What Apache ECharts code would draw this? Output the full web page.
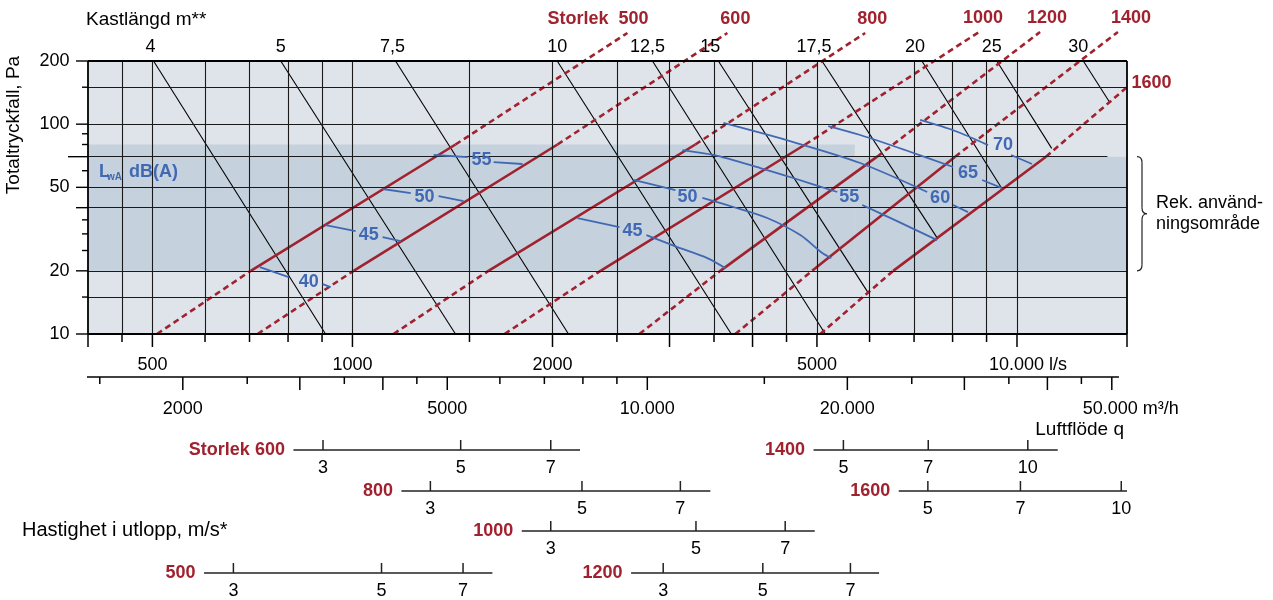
<!DOCTYPE html>
<html><head><meta charset="utf-8">
<script src="https://cdn.jsdelivr.net/npm/echarts/dist/echarts.min.js"></script>
<style>html,body{margin:0;padding:0;background:#fff}#c{width:1273px;height:600px}</style>
</head><body><div id="c"></div>
<script>
// ================= DATA =================
const X_MIN = 400, X_MAX = 14640;          // airflow l/s (log)
const Y_MIN = 10, Y_MAX = 200;             // total pressure drop Pa (log)
const M3H_PER_LS = 3.6;

// main x axis (l/s)
const lsLabelValues = [500, 1000, 2000, 5000, 10000];
const lsLabelTexts  = ['500', '1000', '2000', '5000', '10.000 l/s'];
const lsTicksLong   = [X_MIN, 500, 1000, 2000, 3000, 4000, 5000, 10000, X_MAX];
const lsTicksShort  = [450, 600, 700, 800, 900, 1500, 2500, 3500, 4500, 6000, 7000, 8000, 9000];
const vGridValues   = [450, 500, 600, 700, 800, 900, 1000, 1500, 2000, 2500, 3000, 3500, 4000, 4500, 5000, 6000, 7000, 8000, 9000, 10000];

// y axis (Pa)
const yLabelValues   = [200, 100, 50, 20, 10];
const yTicksLong     = [200, 100, 50, 40, 20, 10];
const yTicksShort    = [150, 90, 80, 60, 35, 30, 25, 15];
const yTickExtra     = [70];
const hGridValues    = [150, 100, 50, 40, 20, 15];
const hLine70        = [70, 13680];          // pressure, end airflow

// m3/h axis
const m3LabelValues = [2000, 5000, 10000, 20000, 50000];
const m3LabelTexts  = ['2000', '5000', '10.000', '20.000', '50.000 m³/h'];
const m3TicksLong   = [2000, 3000, 4000, 5000, 10000, 20000, 30000, 40000, 50000];
const m3TicksShort  = [1500, 2500, 3500, 4500, 6000, 7000, 8000, 9000, 15000, 25000, 35000, 45000];
const m3LineRange   = [1430, 51250];

// recommended area (airflow range, pressure range)
const bandLeftQ  = [X_MIN, 5700], bandLeftP  = [20, 80];
const bandRightQ = [5700, X_MAX], bandRightP = [20, 70];

// size lines (Storlek): points bottom / solid start / solid end / top
const sizeNames = ['500', '600', '800', '1000', '1200', '1400', '1600'];
const sizeLineQ = [
  [508, 703, 1429, 2593], [720, 1004, 2035, 3666], [1153, 1602, 3281, 5910],
  [1694, 2362, 4801, 8770], [2703, 3577, 6160, 10832], [3768, 4918, 8071, 14187],
  [5058, 6512, 11057, 14636]];
const sizeLineP = [
  [10, 20, 80, 272], [10, 20, 80, 272], [10, 20, 80, 272],
  [10, 20, 80, 275], [10, 20, 70, 275], [10, 20, 70, 275], [10, 20, 70, 150]];

// throw length lines (Kastlängd)
const throwNames = ['4', '5', '7,5', '10', '12,5', '15', '17,5', '20', '25', '30'];
const throwQ = [[502, 911], [780, 1429], [1161, 2114], [2033, 3716], [2828, 5147],
                [3553, 5973], [5088, 7584], [7193, 9484], [9324, 11278], [12584, 13800]];
const throwP = [[200, 10], [200, 10], [200, 10], [200, 10], [200, 10],
                [200, 15.7], [200, 28.7], [200, 49.5], [200, 76.7], [200, 126.6]];

// sound level curves LwA dB(A)
const soundNames = ['40', '45', '50', '55', '45', '50', '55', '60', '65', '70'];
const soundPartA = [
  [[725.5, 20.85], [802, 18.68]],
  [[911, 33.05], [1011, 30.95]],
  [[1110, 49.1], [1224, 46.97]],
  [[1325, 71.3], [1491, 69.7]],
  [[2181, 35.7], [2522, 32.3]],
  [[2648, 54.2], [3062, 48.5]],
  [[3137, 75.3], [3492, 71.3], [4109, 61.8], [4606, 55.4], [5364, 47.5]],
  [[3615, 101.3], [4606, 82.2], [5809, 65.3], [7326, 47.5]],
  [[5200, 98.0], [5809, 88.8], [6786, 75.3], [8015, 62.5]],
  [[7150, 104.7], [8071, 92.8], [9046, 79.5]]];
const soundPartB = [
  [[902, 17.3], [927.5, 16.74]],
  [[1110, 28.99], [1182, 27.73]],
  [[1348, 45.45], [1470, 43.0]],
  [[1631, 66.0], [1803, 64.6]],
  [[2769, 29.6], [3083, 25.96], [3420, 23.0], [3640, 20.6]],
  [[3362, 44.5], [3742, 40.3], [4209, 35.7], [4720, 29.6], [5093, 24.3], [5254, 23.0]],
  [[5849, 41.2], [6601, 34.5], [7584, 28.0]],
  [[8015, 41.2], [8440, 38.1]],
  [[8862, 54.2], [9495, 49.6]],
  [[9797, 71.3], [10534, 64.6]]];
const soundLabelAt = [[859.5, 17.68], [1058, 29.6], [1284, 44.96], [1564, 67.5], [2638, 30.95],
                      [3192, 44.96], [5591, 44.96], [7662, 44.5], [8440, 58.5], [9528, 79.5]];

// outlet velocity scales (m/s) -> airflow l/s
const velSizeNames = ['Storlek 600', '800', '1000', '500', '1200', '1400', '1600'];
const velValues = [[3, 5, 7], [3, 5, 7], [3, 5, 7], [3, 5, 7], [3, 5, 7], [5, 7, 10], [5, 7, 10]];
const velTickQ  = [[903, 1455, 1988], [1310, 2215, 3115], [1988, 3288, 4479], [662, 1106, 1467],
                   [2935, 4145, 5615], [5480, 7353, 10382], [7343, 10120, 14352]];
const velLineQ  = [[815, 2200], [1185, 3456], [1798, 4962], [598, 1624], [2626, 6201], [4941, 11516], [6638, X_MAX]];

// ================= LAYOUT / STYLE =================
const FONT = '"Liberation Sans", Arial, Helvetica, sans-serif';
const RED = '#a0222f', BLUE = '#4169b3', INK = '#000';
const BG = '#dfe4eb', BAND = '#c5d1dc';
const velRowY = [116, 157, 197, 239, 239, 116, 157];   // px below plot bottom
const ROW_LS_LABEL = 31, ROW_M3_LINE = 43, ROW_M3_LABEL = 75;
const throwLabelDx = [-3, 0, -3, 0, -5, -8, -8, -7, -5, -5];
const sizeLabelDx  = [21, 8, 7, 4, 7, 13, 0];

const chart = echarts.init(document.getElementById('c'));
const series = [];
const M  = {xAxisIndex: 0, yAxisIndex: 0};
const H  = {xAxisIndex: 1, yAxisIndex: 1};
const H3 = {xAxisIndex: 2, yAxisIndex: 1};

function lineS(axes, data, color, width, dash, z, smooth) {
  series.push(Object.assign({type: 'line', data, symbol: 'none', showSymbol: false, clip: false,
    silent: true, z: z || 3, smooth: smooth || false, animation: false,
    lineStyle: {color, width, type: dash || 'solid', cap: 'butt', opacity: 1}}, axes));
}
function marks(axes, data, size, offset, color, z) {
  series.push(Object.assign({type: 'scatter', data, symbol: 'rect', symbolSize: size, symbolOffset: offset,
    itemStyle: {color, opacity: 1}, clip: false, silent: true, z: z || 4, animation: false}, axes));
}
function texts(axes, items, labelBase, z) {
  series.push(Object.assign({type: 'scatter', data: items, symbolSize: 1,
    itemStyle: {color: 'rgba(0,0,0,0)', opacity: 1}, clip: false, silent: true, z: z || 6, animation: false,
    label: Object.assign({show: true, position: 'inside', fontFamily: FONT, fontSize: 18, color: INK,
      textBorderWidth: 0, textBorderColor: 'transparent', opacity: 1}, labelBase)}, axes));
}

// recommended area band
series.push(Object.assign({type: 'line', data: [[X_MIN, Y_MIN]], symbol: 'none', z: 1, silent: true, animation: false,
  lineStyle: {width: 0},
  markArea: {silent: true, itemStyle: {color: BAND, opacity: 1}, data: [
    [{coord: [bandLeftQ[0], bandLeftP[0]]}, {coord: [bandLeftQ[1], bandLeftP[1]]}],
    [{coord: [bandRightQ[0], bandRightP[0]]}, {coord: [bandRightQ[1], bandRightP[1]]}]]}}, M));

// grid lines
series.push(Object.assign({type: 'line', data: [[X_MIN, Y_MIN]], symbol: 'none', z: 2, silent: true, animation: false,
  lineStyle: {width: 0},
  markLine: {silent: true, symbol: ['none', 'none'], label: {show: false}, animation: false,
    lineStyle: {color: '#1a1a1a', width: 1.1, type: 'solid', opacity: 1},
    data: vGridValues.map(v => ({xAxis: v})).concat(hGridValues.map(p => ({yAxis: p})))
      .concat([[{coord: [X_MIN, hLine70[0]]}, {coord: [hLine70[1], hLine70[0]]}]])}}, M));
// plot border
series.push(Object.assign({type: 'line', data: [[X_MIN, Y_MIN]], symbol: 'none', z: 7, silent: true, animation: false,
  lineStyle: {width: 0},
  markLine: {silent: true, symbol: ['none', 'none'], label: {show: false}, animation: false,
    lineStyle: {color: INK, width: 1.8, type: 'solid', opacity: 1},
    data: [{xAxis: X_MIN}, {xAxis: X_MAX}, {yAxis: Y_MIN}, {yAxis: Y_MAX}]}}, M));

// throw lines
throwQ.forEach((qs, i) => lineS(M, qs.map((q, j) => [q, throwP[i][j]]), INK, 1.1, 'solid', 3));
texts(M, throwQ.map((qs, i) => ({value: [qs[0], throwP[i][0]],
  label: {formatter: throwNames[i], position: 'top', distance: 4, offset: [throwLabelDx[i], 0]}})), {fontSize: 18});

// size lines
sizeLineQ.forEach((qs, i) => {
  const pts = qs.map((q, j) => [q, sizeLineP[i][j]]);
  lineS(M, [pts[0], pts[1]], RED, 2.6, [6, 4], 4);
  lineS(M, [pts[1], pts[2]], RED, 2.6, 'solid', 4);
  lineS(M, [pts[2], pts[3]], RED, 2.6, [6, 4], 4);
});
texts(M, sizeLineQ.map((qs, i) => {
  const last = i === sizeNames.length - 1;
  return {value: [qs[3], sizeLineP[i][3]], label: last ?
    {formatter: sizeNames[i], position: 'right', distance: 4, offset: [0, -4]} :
    (i === 0 ? {formatter: 'Storlek  ' + sizeNames[i], position: 'top', distance: 4, align: 'right', offset: [sizeLabelDx[i], 0]} :
      {formatter: sizeNames[i], position: 'top', distance: 4, offset: [sizeLabelDx[i], 0]})};
}), {color: RED, fontWeight: 'bold', fontSize: 18});

// sound curves
soundPartA.forEach((a, i) => {
  lineS(M, a, BLUE, 1.8, 'solid', 5, 0.3);
  lineS(M, soundPartB[i], BLUE, 1.8, 'solid', 5, 0.3);
});
texts(M, soundLabelAt.map((pt, i) => ({value: pt, label: {formatter: soundNames[i]}})),
  {color: BLUE, fontWeight: 'bold', fontSize: 18});

// y axis ticks and labels
marks(M, yTicksLong.map(p => [X_MIN, p]), [12, 1.4], [-6, 0], INK);
marks(M, yTicksShort.map(p => [X_MIN, p]), [6, 1.4], [-3, 0], INK);
marks(M, yTickExtra.map(p => [X_MIN, p]), [20, 1.4], [-10, 0], INK);
texts(M, yLabelValues.map(p => ({value: [X_MIN, p], label: {formatter: String(p)}})),
  {position: 'left', distance: 18, fontSize: 18});

// bottom l/s axis ticks and labels
marks(H, lsTicksLong.map(q => [q, 0]), [1.5, 13], [0, 6.5], INK);
marks(H, lsTicksShort.map(q => [q, 0]), [1.5, 8], [0, 4], INK);
texts(H, lsLabelValues.map((q, i) => ({value: [q, ROW_LS_LABEL],
  label: i === lsLabelValues.length - 1 ? {formatter: lsLabelTexts[i], align: 'left', offset: [-28, 0]} : {formatter: lsLabelTexts[i]}})),
  {fontSize: 18});

// m3/h axis
lineS(H3, m3LineRange.map(v => [v, ROW_M3_LINE]), INK, 1.5, 'solid', 4);
marks(H3, m3TicksLong.map(v => [v, ROW_M3_LINE]), [1.5, 13], [0, 6.5], INK);
marks(H3, m3TicksShort.map(v => [v, ROW_M3_LINE]), [1.5, 7], [0, 3.5], INK);
texts(H3, m3LabelValues.map((v, i) => ({value: [v, ROW_M3_LABEL],
  label: i === m3LabelValues.length - 1 ? {formatter: m3LabelTexts[i], align: 'left', offset: [-29, 0]} : {formatter: m3LabelTexts[i]}})),
  {fontSize: 18});

// velocity scales
velLineQ.forEach((qs, i) => {
  const row = velRowY[i];
  lineS(H, qs.map(q => [q, row]), '#222', 1.5, 'solid', 4);
  marks(H, velTickQ[i].map(q => [q, row]), [1.5, 10], [0, -5], '#222');
  texts(H, velTickQ[i].map((q, j) => ({value: [q, row + 18], label: {formatter: String(velValues[i][j])}})), {fontSize: 18});
  texts(H, [{value: [qs[0], row], label: {formatter: velSizeNames[i]}}],
    {position: 'left', distance: 8, color: RED, fontWeight: 'bold', fontSize: 18});
});

const option = {
  animation: false,
  backgroundColor: '#fff',
  grid: [
    {left: 88, right: 146, top: 61, bottom: 266, show: true, backgroundColor: BG, borderWidth: 0, outerBoundsMode: 'none', containLabel: false},
    {left: 88, right: 146, top: 334, bottom: 0, show: false, outerBoundsMode: 'none', containLabel: false}
  ],
  xAxis: [
    {type: 'log', logBase: 10, gridIndex: 0, min: X_MIN, max: X_MAX, axisLine: {show: false}, axisTick: {show: false}, axisLabel: {show: false}, splitLine: {show: false}},
    {type: 'log', logBase: 10, gridIndex: 1, min: X_MIN, max: X_MAX, show: false},
    {type: 'log', logBase: 10, gridIndex: 1, min: X_MIN * M3H_PER_LS, max: X_MAX * M3H_PER_LS, show: false}
  ],
  yAxis: [
    {type: 'log', logBase: 10, gridIndex: 0, min: Y_MIN, max: Y_MAX, axisLine: {show: false}, axisTick: {show: false}, axisLabel: {show: false}, splitLine: {show: false}},
    {type: 'value', gridIndex: 1, min: 0, max: 266, inverse: true, show: false}
  ],
  series
};
chart.setOption(option);

// annotation texts and brace (brace ends taken from the axes: 70 Pa and 20 Pa)
const pTop = chart.convertToPixel({gridIndex: 0}, [X_MAX, 70]);
const pBot = chart.convertToPixel({gridIndex: 0}, [X_MAX, 20]);
const bx0 = pTop[0] + 10, bx1 = bx0 + 5, bx2 = bx1 + 5, by0 = pTop[1], by1 = pBot[1], bym = (by0 + by1) / 2;
const tStyle = (extra) => Object.assign({fill: INK, fontFamily: FONT, fontSize: 19}, extra);
const bStyle = {fill: 'none', stroke: '#222', lineWidth: 1.2};
const bez = (x1, y1, cx, cy, x2, y2) => ({type: 'bezierCurve', shape: {x1, y1, cpx1: cx, cpy1: cy, x2, y2}, style: bStyle});
const seg = (x1, y1, x2, y2) => ({type: 'line', shape: {x1, y1, x2, y2}, style: bStyle});
chart.setOption({graphic: [
  {type: 'text', x: 86, y: 20, style: tStyle({text: 'Kastlängd m**', verticalAlign: 'middle'})},
  {type: 'text', x: 14, y: 125, rotation: Math.PI / 2, style: tStyle({text: 'Totaltryckfall, Pa', align: 'center', verticalAlign: 'middle'})},
  {type: 'text', x: 99, y: 172, z: 10, style: tStyle({text: 'L', fill: BLUE, fontWeight: 'bold', fontSize: 18, verticalAlign: 'middle'})},
  {type: 'text', x: 107, y: 177, z: 10, style: tStyle({text: 'wA', fill: BLUE, fontWeight: 'bold', fontSize: 10, verticalAlign: 'middle'})},
  {type: 'text', x: 129, y: 172, z: 10, style: tStyle({text: 'dB(A)', fill: BLUE, fontWeight: 'bold', fontSize: 18, verticalAlign: 'middle'})},
  {type: 'text', x: bx2 + 9, y: bym, style: tStyle({text: 'Rek. använd-\nningsområde', verticalAlign: 'middle', lineHeight: 21, fontSize: 18})},
  {type: 'text', x: 22, y: 530, style: tStyle({text: 'Hastighet i utlopp, m/s*', verticalAlign: 'middle', fontSize: 20})},
  {type: 'text', x: 1124, y: 430, style: tStyle({text: 'Luftflöde q', align: 'right', verticalAlign: 'middle', fontSize: 19})},
  bez(bx0, by0, bx1, by0, bx1, by0 + 6),
  seg(bx1, by0 + 6, bx1, bym - 6),
  bez(bx1, bym - 6, bx1, bym, bx2, bym),
  bez(bx2, bym, bx1, bym, bx1, bym + 6),
  seg(bx1, bym + 6, bx1, by1 - 6),
  bez(bx1, by1 - 6, bx1, by1, bx0, by1)
]});
</script>
</body></html>
